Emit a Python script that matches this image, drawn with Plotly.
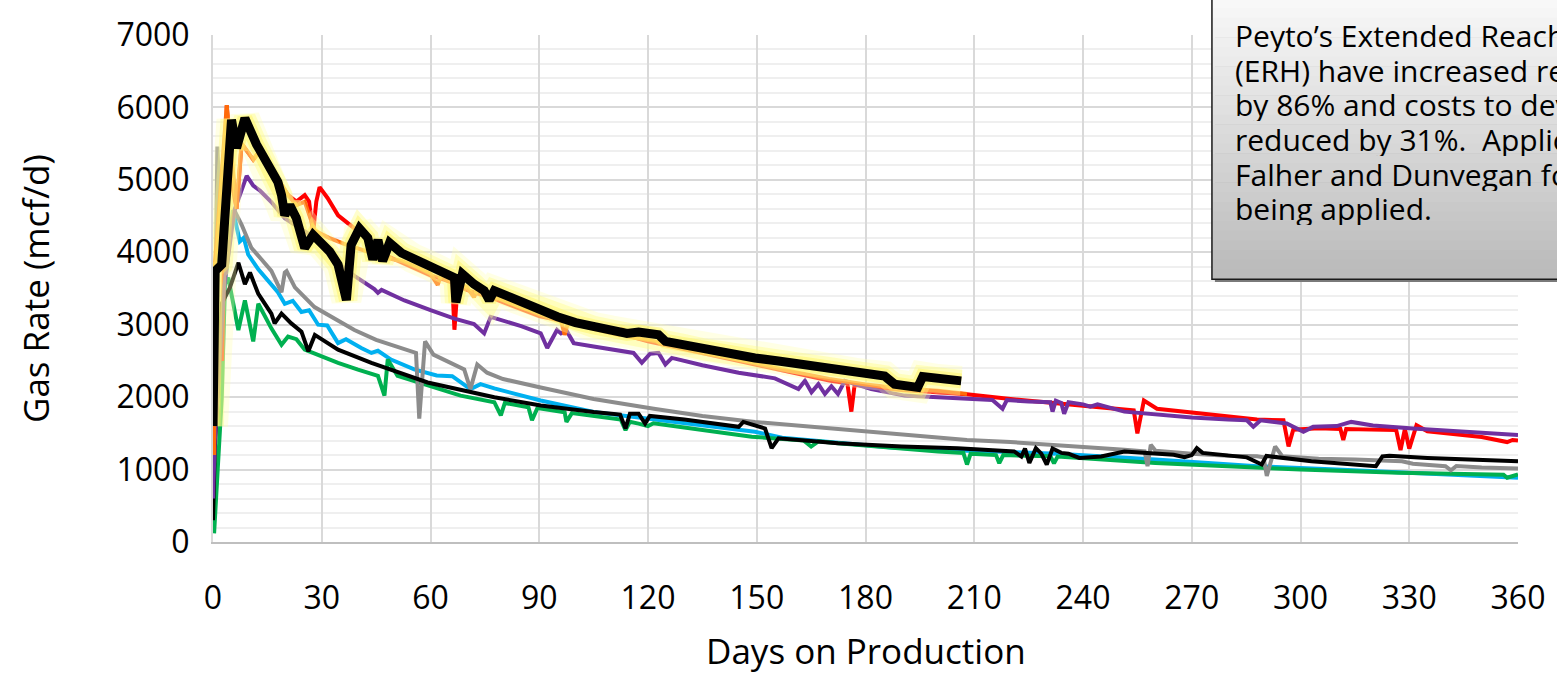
import plotly.graph_objects as go

# ---- data: days on production vs gas rate (mcf/d) ----
erh_days = [0, 0.6, 2.4, 5.1, 6.5, 8.8, 12, 15, 17.9, 18.9, 19.8, 21.2, 23, 25.3, 27.6, 32.2, 34.5, 36.8,
            38.1, 40.4, 42.7, 44.1, 45.5, 46.8, 48.7, 52, 55, 59.2, 63, 66.6, 67, 68.8, 72, 74.8, 76.2,
            77.6, 82, 86, 90.4, 95, 100, 105, 110, 114.2, 117.4, 122.9, 124.8, 130, 135.8, 142, 149.5,
            156, 163.3, 168, 172.4, 178, 185.3, 188, 194.4, 195.8, 200, 203, 206.4]
erh_rate = [1600, 3740, 3830, 5830, 5440, 5850, 5490, 5200, 4970, 4790, 4510, 4650, 4470, 4060, 4240, 4010,
            3830, 3340, 4100, 4330, 4200, 3900, 4170, 3880, 4130, 3990, 3920, 3830, 3720, 3650, 3310, 3700,
            3560, 3470, 3340, 3470, 3380, 3290, 3200, 3110, 3030, 2970, 2920, 2880, 2900, 2860, 2770, 2720,
            2655, 2600, 2540, 2500, 2450, 2410, 2360, 2330, 2290, 2180, 2134, 2284, 2250, 2230, 2225]

orange_days = [0.3, 0.5, 1.9, 3.8, 6.5, 7.9, 11.1, 12.9, 16.1, 20.7, 23, 25.3, 28, 32, 36, 40, 44, 48, 52,
               56, 60, 62, 63, 66, 70, 72, 73, 78, 84, 90, 96, 97, 98, 105, 112, 113, 114, 120, 130, 140,
               150, 160, 170, 180, 190, 200, 208]
orange_rate = [1200, 3830, 4740, 6030, 4600, 5500, 5280, 5400, 5150, 4790, 4650, 4700, 4300, 4200, 4120,
               4050, 3980, 3920, 3880, 3800, 3700, 3550, 3700, 3620, 3520, 3380, 3500, 3380, 3260, 3160,
               3060, 2860, 3040, 2940, 2860, 2950, 2840, 2790, 2677, 2568, 2460, 2352, 2250, 2175, 2120,
               2089, 2043]

red_days = [2.5, 3.8, 5.0, 6.5, 7.9, 11.1, 12.9, 16.1, 20.7, 23, 25.3, 26.5, 27.6, 28.5, 29.4, 31.6, 34.5,
            39, 43.6, 48, 52, 56, 60, 64, 66, 66.6, 67.5, 70, 78, 90, 100, 110, 120, 130, 140, 150, 160,
            170, 175, 176.1, 177, 180, 190, 200, 208, 220, 230, 240, 250, 254, 255, 256.8, 260.4, 270, 280,
            288, 295.3, 296.7, 298, 305, 311, 311.8, 312.6, 320, 326.4, 327.6, 328.8, 330, 332, 335, 340,
            350, 357, 358.5, 360]
red_rate = [2500, 6030, 5000, 4600, 5500, 5280, 5400, 5150, 4790, 4700, 4790, 4700, 4264, 4700, 4900, 4750,
            4510, 4330, 4150, 3950, 3860, 3780, 3680, 3620, 3580, 2930, 3540, 3480, 3350, 3120, 3020, 2910,
            2770, 2660, 2550, 2440, 2330, 2230, 2190, 1800, 2170, 2150, 2100, 2070, 2040, 1974, 1928, 1882,
            1836, 1817, 1500, 1953, 1840, 1785, 1730, 1690, 1680, 1320, 1550, 1570, 1560, 1410, 1560, 1545,
            1545, 1270, 1560, 1290, 1613, 1530, 1500, 1450, 1380, 1409, 1400]

purple_days = [0, 0.5, 3, 5.9, 9.3, 11.1, 13, 16.1, 19.8, 24, 28, 32.6, 39, 44.5, 45.5, 46.5, 52.8, 60,
               66.6, 72, 74.8, 76.6, 80, 85, 90.4, 92.2, 94.9, 96, 97.5, 99.5, 105, 110, 116, 118.3, 120.6,
               122.9, 124.8, 126.6, 135, 145, 155, 161.5, 163.3, 165.1, 167, 168.8, 170.6, 172.4, 174.3,
               181.6, 190.8, 200, 208, 215, 217.8, 219, 225, 231, 231.6, 232.5, 234, 234.8, 236, 240, 242,
               244, 251.4, 260, 270, 280, 285.2, 287, 289, 296.2, 300.8, 303.5, 310, 314, 320, 331, 340,
               350, 360]
purple_rate = [600, 1400, 3500, 4580, 5056, 4920, 4850, 4694, 4470, 4330, 4200, 3924, 3674, 3493, 3440,
               3480, 3335, 3200, 3085, 3010, 2880, 3108, 3060, 2980, 2882, 2678, 2927, 2880, 2920, 2746,
               2700, 2660, 2610, 2474, 2600, 2610, 2451, 2542, 2440, 2338, 2260, 2111, 2225, 2066, 2179,
               2043, 2150, 2043, 2225, 2111, 2021, 2000, 1975, 1960, 1840, 1960, 1940, 1930, 1800, 1950,
               1920, 1770, 1930, 1900, 1870, 1900, 1800, 1760, 1720, 1690, 1681, 1590, 1681, 1636, 1522,
               1590, 1600, 1658, 1610, 1567, 1540, 1510, 1477]

gray_days = [0, 1.2, 2.6, 5.9, 7.9, 10.6, 13.4, 16.1, 18.9, 19.8, 20.3, 22.6, 28, 32.6, 39, 45, 52.8, 56,
             56.9, 58.5, 60.8, 65, 69.3, 71, 72.9, 75.6, 80, 90.4, 105, 121.6, 135, 149.5, 165, 179.8, 195,
             208, 220, 233, 245, 251.4, 257, 257.8, 258.7, 260, 270, 280, 288, 289.8, 290.7, 293, 295, 305,
             315, 328, 331, 340, 341.5, 343, 350, 360]
gray_rate = [670, 5460, 3800, 4580, 4380, 4060, 3900, 3742, 3448, 3720, 3740, 3516, 3244, 3108, 2927, 2790,
             2655, 2610, 1703, 2770, 2587, 2480, 2383, 2111, 2451, 2338, 2250, 2134, 1975, 1840, 1740, 1658,
             1590, 1522, 1460, 1409, 1380, 1341, 1300, 1273, 1250, 1047, 1341, 1260, 1220, 1190, 1183, 1170,
             911, 1318, 1183, 1150, 1140, 1115, 1080, 1047, 990, 1050, 1030, 1015]

blue_days = [0, 1, 5.5, 7.4, 8.5, 9.7, 12.5, 15.2, 17.9, 19.8, 22, 24.4, 26.5, 29, 31.5, 34.5, 36.7, 40.9,
             43.7, 45.5, 49.1, 55.5, 59, 61.7, 66, 71, 73.8, 77.6, 90.4, 105, 117.4, 130, 149.5, 157, 170,
             188, 208, 233, 260, 288, 310, 327, 345, 360]
blue_rate = [900, 2500, 4580, 4150, 4200, 3969, 3765, 3606, 3448, 3289, 3330, 3176, 3200, 3000, 2990, 2746,
             2800, 2678, 2610, 2640, 2519, 2383, 2330, 2300, 2290, 2111, 2180, 2120, 1953, 1794, 1720, 1640,
             1522, 1440, 1380, 1300, 1260, 1220, 1138, 1047, 1000, 956, 920, 888]

green_days = [0.3, 2.4, 3.3, 4.2, 7, 8.8, 11.1, 12.5, 16.1, 18.9, 20.7, 23, 25.3, 30, 34.5, 40, 45.5, 47.3,
              48.2, 50.9, 59.2, 68.3, 77.6, 79.4, 80.5, 87, 88, 89.5, 97, 97.5, 99, 112.5, 113.8, 115,
              117.4, 120, 121.5, 148.6, 163, 165, 167, 172.4, 200, 207, 208, 209, 216, 216.9, 218, 231,
              232, 233, 260, 288, 300, 327, 340, 356, 357, 360]
green_rate = [120, 1975, 3561, 3650, 2927, 3335, 2769, 3289, 2950, 2723, 2837, 2800, 2655, 2560, 2474, 2380,
              2293, 2021, 2519, 2293, 2157, 2021, 1930, 1749, 1920, 1860, 1681, 1850, 1790, 1658, 1780, 1690,
              1545, 1660, 1635, 1600, 1640, 1454, 1400, 1318, 1390, 1363, 1250, 1230, 1070, 1220, 1200, 1088,
              1200, 1183, 1088, 1180, 1092, 1024, 1000, 956, 950, 930, 888, 934]

black_days = [0, 0.5, 2.5, 4.7, 7, 8.8, 10.2, 12.5, 16.1, 17, 18.9, 21.6, 24.4, 26.3, 28.1, 34.5, 43.7, 50,
              59.2, 77.6, 90.4, 105, 112.3, 113.8, 115, 117.4, 119.2, 120.5, 130, 145, 146.3, 152.3, 154.1,
              156, 172.4, 190, 205.4, 221, 223, 224, 225.2, 227, 228.5, 230, 231.6, 234, 236, 237.5, 239,
              245, 251.4, 265, 268, 270, 271.4, 273, 285.2, 289.3, 290.6, 303, 320.8, 322.6, 324.5, 335, 360]
black_rate = [300, 1300, 3300, 3516, 3856, 3561, 3720, 3425, 3153, 3018, 3153, 3018, 2904, 2633, 2859, 2655,
              2474, 2361, 2202, 1998, 1885, 1794, 1760, 1567, 1770, 1771, 1635, 1740, 1690, 1590, 1658, 1567,
              1295, 1431, 1363, 1320, 1295, 1250, 1180, 1290, 1092, 1295, 1220, 1070, 1290, 1230, 1220, 1190,
              1160, 1180, 1250, 1205, 1170, 1200, 1295, 1230, 1169, 1070, 1188, 1115, 1047, 1183, 1190, 1160,
              1115]

box_lines = ["Peyto’s Extended Reach Horizontals",
             "(ERH) have increased reserves per well",
             "by 86% and costs to develop reserves",
             "reduced by 31%.  Application to the",
             "Falher and Dunvegan formations now",
             "being applied."]

FONT = "Open Sans"

fig = go.Figure()

# thin well curves (draw order matters for overlaps)
thin = [
    (blue_days, blue_rate, "#00B0F0"),
    (green_days, green_rate, "#00B050"),
    (gray_days, gray_rate, "#8C8C8C"),
    (black_days, black_rate, "#000000"),
    (red_days, red_rate, "#FF0000"),
    (purple_days, purple_rate, "#7030A0"),
    (orange_days, orange_rate, "#FF6A0A"),
]
for d, r, c in thin:
    fig.add_trace(go.Scatter(x=d, y=r, mode="lines", line=dict(color=c, width=4),
                             showlegend=False, hoverinfo="skip"))

# soft yellow glow under the ERH well
for w, col in [(30, "rgba(255,255,180,0.35)"), (22, "rgba(255,252,130,0.4)"), (15, "rgba(255,244,90,0.45)")]:
    fig.add_trace(go.Scatter(x=erh_days, y=erh_rate, mode="lines", line=dict(color=col, width=w),
                             showlegend=False, hoverinfo="skip"))
fig.add_trace(go.Scatter(x=erh_days, y=erh_rate, mode="lines", line=dict(color="black", width=9),
                         showlegend=False, hoverinfo="skip"))

# plot area in pixels: left 213, right 1522, top 27, bottom 542
L, R, T, B = 213, 1522, 27, 542
def px(x):
    return (x - L) / (R - L)
def py(y):
    return (B - y) / (B - T)

# text box with grey gradient and shadow
bx0, bx1, by0, by1 = 1215, 1575, -20, 275
fig.add_shape(type="rect", xref="paper", yref="paper", x0=px(bx0 + 3), x1=px(bx1 + 3), y0=py(by1 + 3),
              y1=py(by0 + 3), fillcolor="#7a7a7a", line=dict(width=0))
n = 30
for i in range(n):
    t = i / (n - 1)
    g = int(round(250 - t * (250 - 186)))
    ya = by0 + (by1 - by0) * i / n
    yb = by0 + (by1 - by0) * (i + 1) / n
    fig.add_shape(type="rect", xref="paper", yref="paper", x0=px(bx0), x1=px(bx1), y0=py(yb + 0.5),
                  y1=py(ya), fillcolor=f"rgb({g},{g},{g})", line=dict(width=0))
fig.add_shape(type="rect", xref="paper", yref="paper", x0=px(bx0), x1=px(bx1), y0=py(by1), y1=py(by0),
              fillcolor="rgba(0,0,0,0)", line=dict(color="#1a1a1a", width=1.5))

for i, s in enumerate(box_lines):
    fig.add_annotation(xref="paper", yref="paper", x=px(1236), y=py(27 + i * 35.2), text=s, showarrow=False,
                       xanchor="left", yanchor="middle", height=34,
                       font=dict(family=FONT, size=30, color="black"))

# axis titles
fig.add_annotation(xref="paper", yref="paper", x=0.5, y=py(652), text="Days on Production", showarrow=False,
                   xanchor="center", yanchor="middle", font=dict(family=FONT, size=35, color="black"))
fig.add_annotation(xref="paper", yref="paper", x=px(35), y=0.5, text="Gas Rate (mcf/d)", showarrow=False,
                   textangle=-90, xanchor="center", yanchor="middle",
                   font=dict(family=FONT, size=35, color="black"))

fig.update_layout(
    width=1557, height=676,
    margin=dict(l=L, r=1557 - R, t=T, b=676 - B),
    plot_bgcolor="white", paper_bgcolor="white",
    font=dict(family=FONT, color="black"),
    showlegend=False,
)
fig.update_xaxes(range=[0, 360], tick0=0, dtick=30, showgrid=True, gridcolor="#d9d9d9", gridwidth=2,
                 zeroline=False, showline=True, linecolor="#bfbfbf", linewidth=2,
                 tickfont=dict(family=FONT, size=32), ticklabelstandoff=27)
fig.update_yaxes(range=[0, 7000], tick0=0, dtick=1000, showgrid=True, gridcolor="#d9d9d9", gridwidth=2,
                 zeroline=False, showline=True, linecolor="#d9d9d9", linewidth=2,
                 minor=dict(dtick=200, showgrid=True, gridcolor="#efefef", gridwidth=2),
                 tickfont=dict(family=FONT, size=32), ticklabelstandoff=15)

fig.write_html("out.html", config={"displayModeBar": False},
               post_script="document.body.style.margin='0';")
